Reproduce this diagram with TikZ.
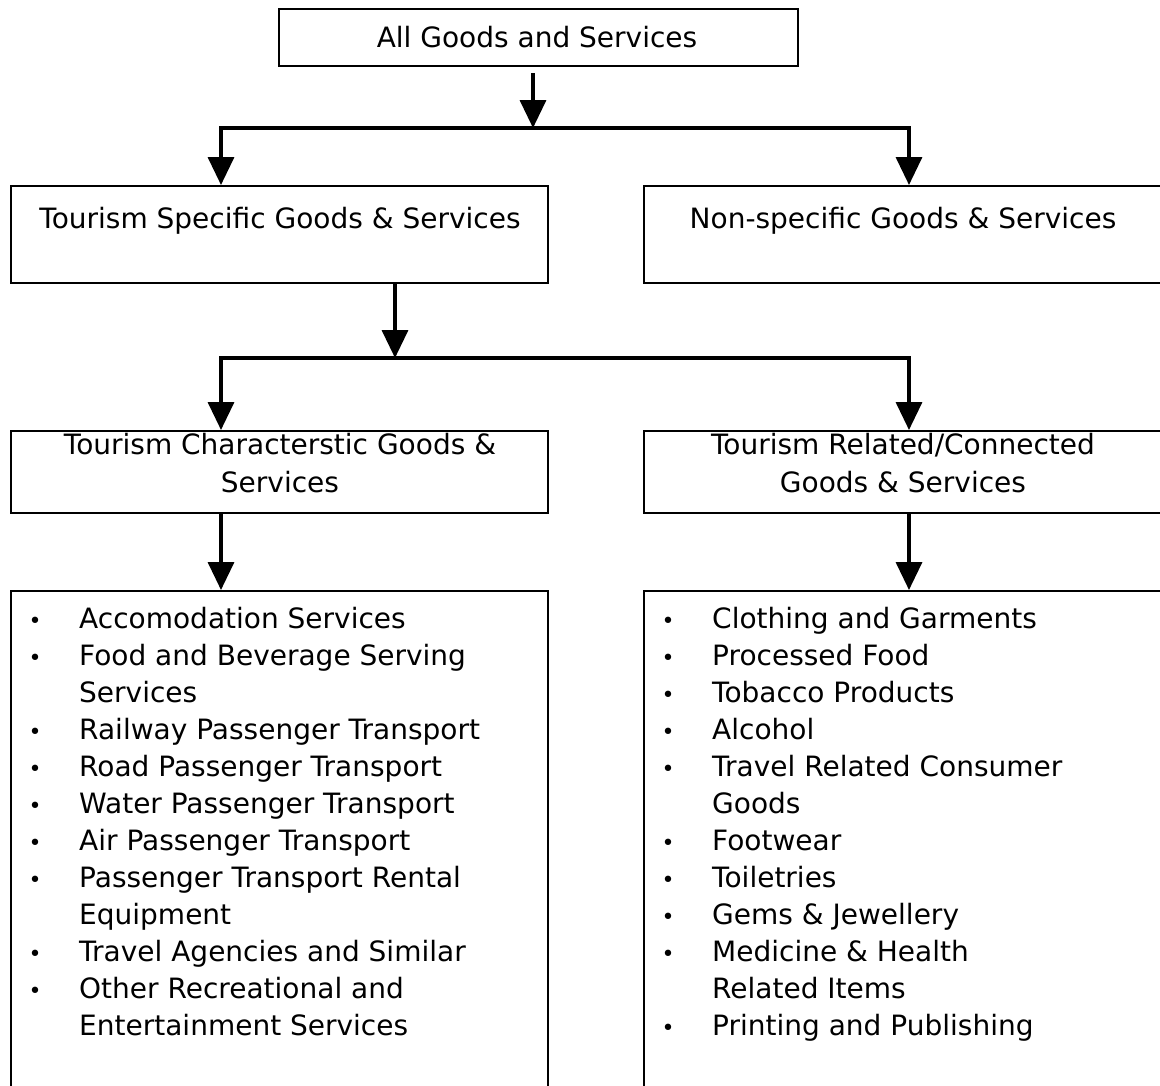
\documentclass[tikz,border=0pt]{standalone}
\usepackage{fontspec}
\setmainfont{DejaVu Sans}
\usetikzlibrary{arrows.meta}
\newcommand\ls{\rule[-11pt]{0pt}{37pt}}
\newcommand\bu{\ls\llap{\makebox[50.5pt][l]{\fontsize{22}{22}\selectfont •}}}
\tikzset{
  box/.style={draw, line width=2pt, anchor=north west, inner sep=0pt},
  conn/.style={line width=3.5pt, line cap=rect},
  arr/.style={line width=3.5pt, -{Triangle[length=28pt,width=26pt]}},
  txt/.style={inner sep=0pt, font=\fontsize{28}{37}\selectfont},
  txtt/.style={inner sep=0pt, font=\fontsize{28}{38}\selectfont},
}
\begin{document}
\begin{tikzpicture}[x=1pt,y=-1pt]
\useasboundingbox[fill=white] (0,0) rectangle (1160,1085);
% boxes
\node[box, minimum width=519pt, minimum height=57pt] (all) at (278,8) {};
\node[box, minimum width=537pt, minimum height=97pt] (tsg) at (10,185) {};
\node[box, minimum width=530pt, minimum height=97pt] (nsg) at (643,185) {};
\node[box, minimum width=537pt, minimum height=82pt] (tcg) at (10,430) {};
\node[box, minimum width=530pt, minimum height=82pt] (trg) at (643,430) {};
\node[box, minimum width=537pt, minimum height=520pt] (lst1) at (10,590) {};
\node[box, minimum width=530pt, minimum height=520pt] (lst2) at (643,590) {};
% texts
\node[txt, anchor=base] (tall) at (537,47) {All Goods and Services};
\node[txt, anchor=base] (ttsg) at (280,228) {Tourism Specific Goods \& Services};
\node[txt, anchor=base] (tnsg) at (903,228) {Non-specific Goods \& Services};
\node[txtt, anchor=north, align=center] (ttcg) at (280,428) {\ls Tourism Characterstic Goods \&\\\ls Services};
\node[txtt, anchor=north, align=center] (ttrg) at (903,428) {\ls Tourism Related/Connected\\\ls Goods \& Services};
\node[txt, anchor=north west, align=left] (items1) at (79,602) {\bu Accomodation Services\\\bu Food and Beverage Serving\\\ls Services\\\bu Railway Passenger Transport\\\bu Road Passenger Transport\\\bu Water Passenger Transport\\\bu Air Passenger Transport\\\bu Passenger Transport Rental\\\ls Equipment\\\bu Travel Agencies and Similar\\\bu Other Recreational and\\\ls Entertainment Services};
\node[txt, anchor=north west, align=left] (items2) at (712,602) {\bu Clothing and Garments\\\bu Processed Food\\\bu Tobacco Products\\\bu Alcohol\\\bu Travel Related Consumer\\\ls Goods\\\bu Footwear\\\bu Toiletries\\\bu Gems \& Jewellery\\\bu Medicine \& Health\\\ls Related Items\\\bu Printing and Publishing};
% connectors
\coordinate (j1) at (533,128);
\coordinate (l1) at (221,128);
\coordinate (r1) at (909,128);
\draw[arr] ([yshift=-6pt]j1 |- all.south) -- (j1);
\draw[conn] (l1) -- (r1);
\draw[arr] (l1) -- (l1 |- tsg.north);
\draw[arr] (r1) -- (r1 |- nsg.north);
\coordinate (j2) at (395,358);
\coordinate (l2) at (221,358);
\coordinate (r2) at (909,358);
\draw[arr] (j2 |- tsg.south) -- (j2);
\draw[conn] (l2) -- (r2);
\draw[arr] (l2) -- (l2 |- tcg.north);
\draw[arr] (r2) -- (r2 |- trg.north);
\draw[arr] (l2 |- tcg.south) -- (l2 |- lst1.north);
\draw[arr] (r2 |- trg.south) -- (r2 |- lst2.north);
\end{tikzpicture}
\end{document}
